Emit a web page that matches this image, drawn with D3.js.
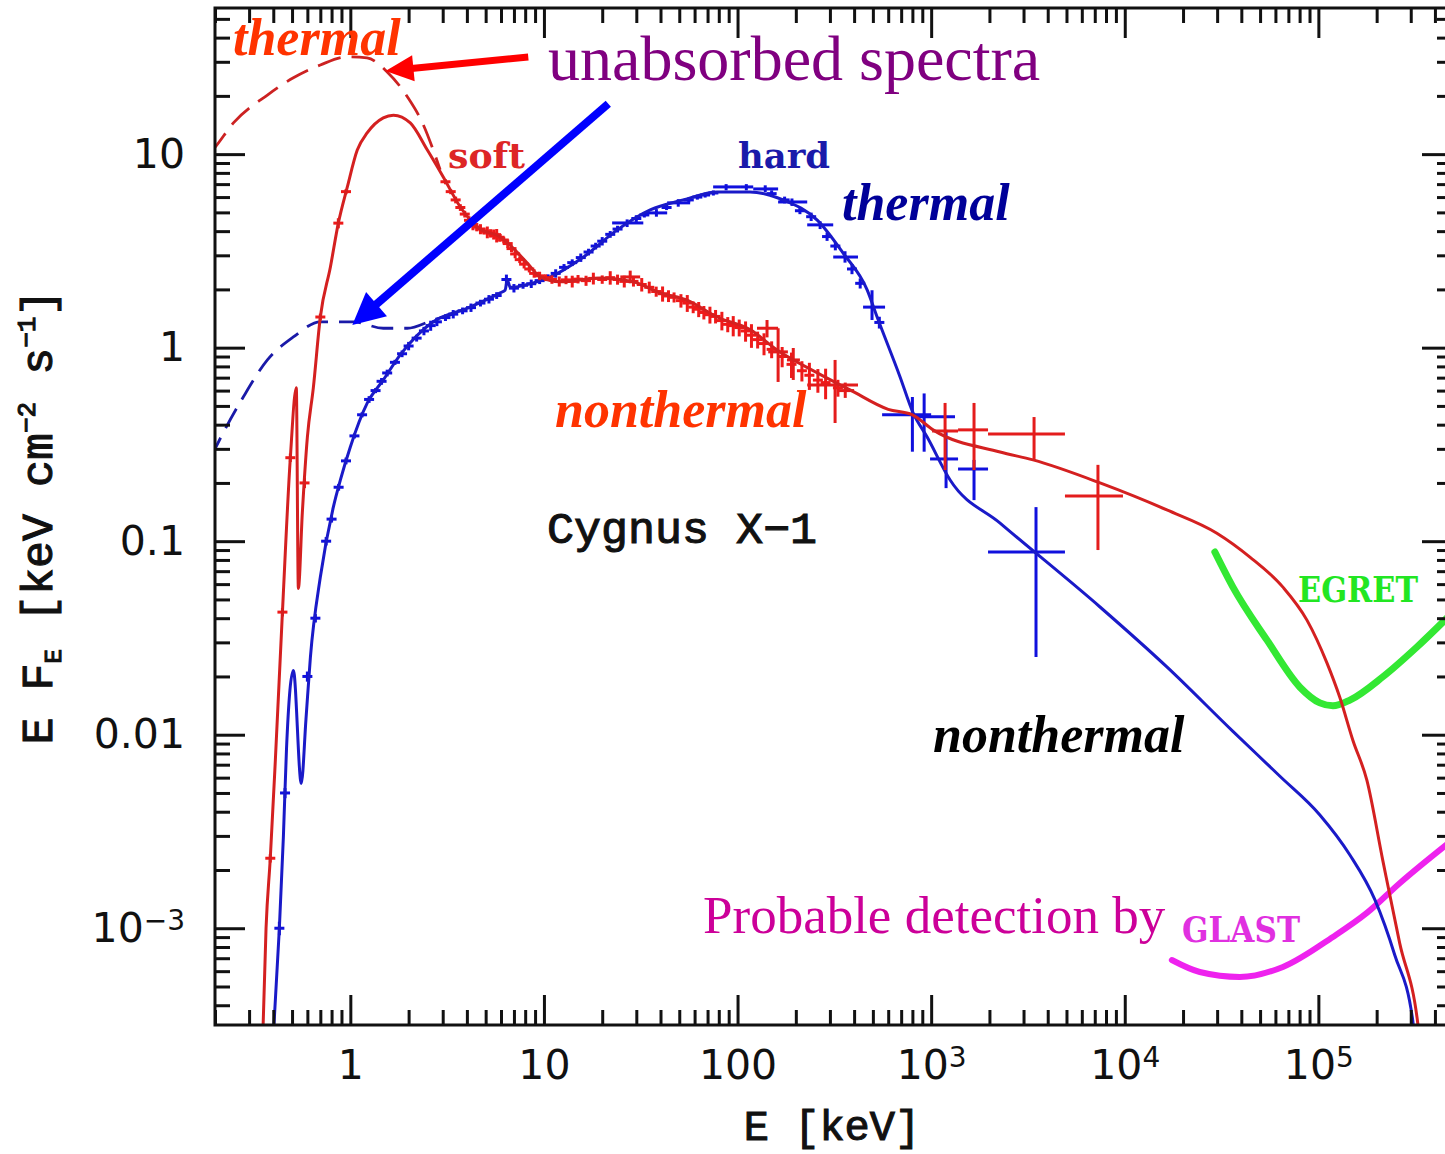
<!DOCTYPE html>
<html>
<head>
<meta charset="utf-8">
<script src="https://cdn.jsdelivr.net/npm/d3@7"></script>
<style>
  body { margin: 0; background: #fff; }
  svg { display: block; }
</style>
</head>
<body>
<svg id="chart" width="1445" height="1154"></svg>
<script>
// Cygnus X-1, soft (red) and hard (blue) states. E [keV] vs E F_E [keV cm^-2 s^-1]

// model curves [E, EF_E]
var softModel = [[0.352,2.5e-4],[0.367,1.0e-3],[0.386,2.3e-3],[0.41,7.4e-3],[0.446,0.043],[0.49,0.27],
  [0.526,0.62],[0.539,0.057],[0.565,0.14],[0.60,0.345],[0.644,0.62],[0.70,1.44],[0.789,2.61],[0.867,4.4],
  [0.965,6.77],[1.086,10.5],[1.224,12.9],[1.48,15.4],[1.67,15.9],[2.04,14.5],[2.5,10.5],[3.02,7.62],
  [3.7,5.33],[4.52,4.2],[5.95,3.73],[8.2,2.74],[9.57,2.32],[12.1,2.19],[19.5,2.29],[28.9,2.19],[39.8,1.92],
  [54.9,1.76],[78.5,1.44],[116,1.24],[160,0.973],[258,0.741],[381,0.605],[600,0.48],[800,0.45],[1023,0.376],
  [2270,0.289],[3360,0.263],[7450,0.2],[16500,0.145],[29900,0.110],[44300,0.0828],[65600,0.0579],
  [87300,0.0391],[110700,0.0235],[129000,0.0156],[150700,9.37e-3],[178000,5.82e-3],[215000,2.25e-3],
  [263000,8.38e-4],[326000,3.24e-4],[336000,2.5e-4]];

var softThermal = [[0.19,10.2],[0.201,10.9],[0.249,14.5],[0.373,20.2],[0.508,24.8],[0.70,28.9],[0.965,31.8],
  [1.22,31.4],[1.55,26.6],[1.97,19.8],[2.38,14.2],[2.68,10.5],[2.91,8.3]];

var hardModel = [[0.398,2.5e-4],[0.43,1.0e-3],[0.451,2.96e-3],[0.468,8.4e-3],[0.508,0.0215],[0.558,5.6e-3],
  [0.59,0.012],[0.622,0.0252],[0.70,0.0653],[0.817,0.15],[0.888,0.207],[1.0,0.307],[1.224,0.518],[1.48,0.681],
  [1.81,0.917],[2.68,1.36],[4.02,1.6],[5.95,1.92],[6.3,1.98],[6.47,2.24],[6.7,2.05],[8.81,2.16],[10.8,2.32],
  [16,2.94],[23.9,4.06],[35.4,5.15],[52.4,5.8],[78.5,6.38],[116,6.38],[172,5.8],[258,4.56],[351,3.08],
  [467,1.99],[526,1.44],[691,0.706],[807,0.46],[952,0.346],[1253,0.207],[2270,0.124],[7450,0.0457],
  [16500,0.0224],[36200,0.0104],[63300,6.1e-3],[101800,3.85e-3],[145500,2.39e-3],[196000,1.40e-3],
  [248000,7.27e-4],[307000,3.36e-4],[316000,2.5e-4]];

var hardThermal = [[0.19,0.27],[0.201,0.303],[0.280,0.556],[0.373,0.864],[0.508,1.136],[0.70,1.36],
  [1.04,1.36],[1.48,1.26],[1.97,1.26],[2.68,1.39],[3.7,1.53]];

// detector sensitivity curves
var egret = [[29200,0.0879],[36200,0.0579],[54300,0.0308],[80300,0.0176],[101800,0.0146],[118900,0.0141],
  [145500,0.0151],[215000,0.0199],[323000,0.0284],[490000,0.0425]];
var glast = [[17500,6.85e-4],[24400,5.94e-4],[39300,5.60e-4],[65600,6.31e-4],[118900,9.02e-4],
  [178000,1.20e-3],[263000,1.71e-3],[490000,2.85e-3]];

// dense data points [E, EF_E, relative error]
var softData = [[0.386,0.0023,.05],[0.446,0.043,.05],[0.49,0.27,.05],[0.58,0.2,.06],[0.70,1.44,.04],
  [0.867,4.4,.06],[0.95,6.4,.03],
  [3.1,7.2,.03],[3.3,6.4,.03],[3.5,5.8,.04],[3.7,5.3,.04],[3.9,4.9,.04],[4.1,4.55,.05],[4.3,4.3,.06],
  [4.5,4.2,.05],[4.7,4.1,.06],[4.9,4.0,.04],[5.1,3.95,.07],[5.3,3.9,.05],[5.5,3.85,.06],[5.7,3.8,.08],
  [5.9,3.72,.05],[6.2,3.6,.04],[6.5,3.45,.05],[6.8,3.25,.04],[7.1,3.05,.05],[7.5,2.85,.04],[7.9,2.7,.05],
  [8.4,2.55,.04],[8.9,2.42,.05],[9.5,2.35,.05],[10.2,2.3,.04],[11,2.25,.05],[12,2.2,.06],[13,2.24,.05],
  [14,2.2,.07],[15,2.26,.05],[16.5,2.22,.06],[18,2.28,.07],[20,2.25,.05],[22,2.3,.08],[24,2.25,.06],
  [26,2.2,.07],[29,2.2,.06],[32,2.12,.08],[35,2.05,.07],[38,1.95,.06],[41,1.9,.09],[44,1.85,.07],
  [47,1.82,.06],[51,1.75,.08],[55,1.7,.1],[59,1.62,.07],[63,1.58,.09],[67,1.52,.08],[72,1.48,.1],
  [77,1.45,.08],[83,1.38,.11],[89,1.32,.09],[95,1.3,.12],[102,1.27,.1],[110,1.22,.12],[118,1.16,.14],
  [127,1.1,.1],[137,1.05,.13],[150,0.98,.1],[170,0.9,.12],[190,0.82,.15],[215,0.76,.12],[235,0.72,.16],
  [260,0.68,.14],[285,0.66,.18],[330,0.62,.1]];

var hardData = [[0.43,1e-3,.08],[0.46,5e-3,.06],[0.6,0.02,.06],[0.66,0.04,.05],[0.75,0.1,.05],[0.8,0.13,.04],
  [0.87,0.19,.04],[0.95,0.26,.04],[1.05,0.35,.03],[1.15,0.45,.03],[1.25,0.54,.04],[1.35,0.6,.03],
  [1.45,0.67,.04],[1.55,0.74,.04],[1.7,0.84,.03],[1.85,0.93,.04],[2.0,1.02,.05],[2.2,1.12,.04],
  [2.4,1.22,.05],[2.6,1.3,.06],[2.8,1.36,.05],[3.1,1.43,.04],[3.4,1.49,.05],[3.8,1.55,.04],[4.2,1.61,.05],
  [4.7,1.7,.04],[5.2,1.78,.05],[5.7,1.86,.04],[6.4,2.25,.06],[7.0,2.03,.05],[7.8,2.1,.04],[8.6,2.14,.05],
  [9.5,2.22,.04],[10.5,2.3,.04],[11.5,2.42,.05],[12.7,2.6,.04],[14,2.75,.04],[15.5,2.92,.05],[17,3.12,.04],
  [18.5,3.35,.04],[20,3.55,.05],[22,3.85,.04],[24,4.1,.04],[30,4.65,.04],[33,4.85,.03],[43,5.3,.03],
  [56,5.8,.03],[62,6.0,.03],[68,6.15,.03],[75,6.3,.03],[150,6.25,.04],[175,5.8,.04],[210,5.1,.04],
  [240,4.75,.05],[290,3.75,.05],[320,3.35,.05],[390,2.55,.06],[430,2.15,.06],[540,1.35,.07]];

// large error crosses [E, EF_E, Elo, Ehi, Flo, Fhi]
var softCross = [[27.9,2.32,24.8,31.4,2.15,2.5],[142,1.26,126,162,1.13,1.39],[162,0.951,144,182,0.665,1.26],
  [194,0.864,180,210,0.681,0.996],[319,0.641,229,419,0.408,0.864],[360,0.6,330,400,0.55,0.66],
  [1180,0.371,1011,1377,0.233,0.518],[1665,0.376,1377,1967,0.233,0.518],[3400,0.358,1967,4910,0.263,0.438],
  [7270,0.171,4910,9790,0.090,0.248]];
var hardCross = [[26.9,4.41,22.5,32.6,4.2,4.6],[38.1,4.97,33.3,43.3,4.75,5.2],[49.4,5.6,43.3,56.9,5.35,5.85],
  [87.3,6.77,74.8,103,6.5,7.0],[111,6.77,103,120.5,6.5,7.0],[139,6.61,120.5,162,6.35,6.9],
  [191,5.66,162,229,5.4,5.9],[267,4.31,229,312,4.1,4.5],[359,2.94,312,419,2.75,3.15],
  [495,1.62,445,578,1.39,1.98],[800,0.45,558,1000,0.29,0.556],[920,0.44,820,1328,0.29,0.58],
  [1194,0.266,987,1377,0.188,0.376],[1665,0.236,1377,1967,0.163,0.263],[3480,0.0879,1967,4910,0.0252,0.150]];

// axis ticks
var xMajor = [1, 10, 100, 1e3, 1e4, 1e5];
var xTickLabels = [["1"], ["10"], ["100"], ["10", "3"], ["10", "4"], ["10", "5"]];
var yMajor = [10, 1, 0.1, 0.01, 1e-3];
var yTickLabels = [["10"], ["1"], ["0.1"], ["0.01"], ["10", "\u22123"]];

// annotation arrows, in data coordinates [E, EF_E]
var arrowFrom = [[8.3, 31.8], [21.5, 18.2]];
var arrowTo = [[1.52, 26.9], [1.024, 1.31]];

var margin = { left: 215, top: 8, right: 1452, bottom: 1025 };
var svg = d3.select("#chart");

var x = d3.scaleLog().domain([0.2, 4.9e5]).range([margin.left, margin.right]);
var y = d3.scaleLog().domain([Math.pow(10, -3.5), 56.9]).range([margin.bottom, margin.top]);

svg.append("defs").append("clipPath").attr("id", "plotclip")
  .append("rect").attr("x", margin.left).attr("y", margin.top)
  .attr("width", margin.right - margin.left).attr("height", margin.bottom - margin.top);

var plot = svg.append("g").attr("clip-path", "url(#plotclip)");

var line = d3.line()
  .x(function(d) { return x(d[0]); })
  .y(function(d) { return y(d[1]); })
  .curve(d3.curveMonotoneX);

// detector curves underneath
plot.append("path").datum(egret).attr("d", line)
  .attr("fill", "none").attr("stroke", "#33e833").attr("stroke-width", 7).attr("stroke-linecap", "round");
plot.append("path").datum(glast).attr("d", line)
  .attr("fill", "none").attr("stroke", "#ee22ee").attr("stroke-width", 6).attr("stroke-linecap", "round");

// dashed unabsorbed thermal components
plot.append("path").datum(softThermal).attr("d", line)
  .attr("fill", "none").attr("stroke", "#cc2222").attr("stroke-width", 2.8).attr("stroke-dasharray", "24,11");
plot.append("path").datum(hardThermal).attr("d", line)
  .attr("fill", "none").attr("stroke", "#1a1aa8").attr("stroke-width", 2.8).attr("stroke-dasharray", "22,11");

function drawData(data, color) {
  var g = plot.append("g").attr("stroke", color).attr("stroke-width", 3);
  data.forEach(function(d) {
    var cx = x(d[0]);
    g.append("line").attr("x1", cx).attr("x2", cx)
      .attr("y1", y(d[1] * (1 - d[2]))).attr("y2", y(d[1] * (1 + d[2])));
    g.append("line").attr("x1", cx - 5).attr("x2", cx + 5)
      .attr("y1", y(d[1])).attr("y2", y(d[1]));
  });
}
function drawCross(data, color) {
  var g = plot.append("g").attr("stroke", color).attr("stroke-width", 3);
  data.forEach(function(d) {
    g.append("line").attr("x1", x(d[0])).attr("x2", x(d[0])).attr("y1", y(d[4])).attr("y2", y(d[5]));
    g.append("line").attr("x1", x(d[2])).attr("x2", x(d[3])).attr("y1", y(d[1])).attr("y2", y(d[1]));
  });
}

drawData(hardData, "#1010dd");
drawCross(hardCross, "#1010dd");
plot.append("path").datum(hardModel).attr("d", line)
  .attr("fill", "none").attr("stroke", "#1a1ac8").attr("stroke-width", 3);

drawData(softData, "#ee1a1a");
drawCross(softCross, "#e41c1c");
plot.append("path").datum(softModel).attr("d", line)
  .attr("fill", "none").attr("stroke", "#d42020").attr("stroke-width", 3);

// axes: ticks point inward on all four sides
var minorX = x.ticks().filter(function(d) { return Math.abs(Math.log10(d) - Math.round(Math.log10(d))) > 1e-6; });
var minorY = y.ticks().filter(function(d) { return Math.abs(Math.log10(d) - Math.round(Math.log10(d))) > 1e-6; });

function styleAxis(g) {
  g.select(".domain").remove();
  g.selectAll(".tick line").attr("stroke", "#111").attr("stroke-width", 3);
  g.attr("font-family", "'DejaVu Sans', 'Liberation Sans', sans-serif").attr("font-size", 41);
  g.selectAll(".tick text").attr("fill", "#111");
}

var gxb = svg.append("g").attr("transform", "translate(0," + margin.bottom + ")")
  .call(d3.axisBottom(x).tickValues(xMajor).tickSize(-30).tickPadding(25).tickFormat(function() { return ""; }))
  .call(styleAxis);
gxb.selectAll(".tick text").each(function(d, i) {
  var t = d3.select(this), lab = xTickLabels[i];
  t.append("tspan").text(lab[0]);
  if (lab[1]) t.append("tspan").attr("dy", "-0.42em").attr("font-size", 28).text(lab[1]);
});
svg.append("g").attr("transform", "translate(0," + margin.bottom + ")")
  .call(d3.axisBottom(x).tickValues(minorX).tickSize(-15).tickFormat(""))
  .call(styleAxis);
svg.append("g").attr("transform", "translate(0," + margin.top + ")")
  .call(d3.axisTop(x).tickValues(xMajor).tickSize(-30).tickFormat(""))
  .call(styleAxis);
svg.append("g").attr("transform", "translate(0," + margin.top + ")")
  .call(d3.axisTop(x).tickValues(minorX).tickSize(-15).tickFormat(""))
  .call(styleAxis);

var gyl = svg.append("g").attr("transform", "translate(" + margin.left + ",0)")
  .call(d3.axisLeft(y).tickValues(yMajor).tickSize(-30).tickPadding(30).tickFormat(function() { return ""; }))
  .call(styleAxis);
gyl.selectAll(".tick text").each(function(d, i) {
  var t = d3.select(this), lab = yTickLabels[i];
  t.append("tspan").text(lab[0]);
  if (lab[1]) t.append("tspan").attr("dy", "-0.42em").attr("font-size", 28).text(lab[1]);
});
svg.append("g").attr("transform", "translate(" + margin.left + ",0)")
  .call(d3.axisLeft(y).tickValues(minorY).tickSize(-15).tickFormat(""))
  .call(styleAxis);
svg.append("g").attr("transform", "translate(" + margin.right + ",0)")
  .call(d3.axisRight(y).tickValues(yMajor).tickSize(-30).tickFormat(""))
  .call(styleAxis);
svg.append("g").attr("transform", "translate(" + margin.right + ",0)")
  .call(d3.axisRight(y).tickValues(minorY).tickSize(-15).tickFormat(""))
  .call(styleAxis);

svg.append("rect").attr("x", margin.left).attr("y", margin.top)
  .attr("width", margin.right - margin.left).attr("height", margin.bottom - margin.top)
  .attr("fill", "none").attr("stroke", "#111").attr("stroke-width", 3);

// axis titles (typewriter face, slightly thickened)
var mono = "'Liberation Mono', 'DejaVu Sans Mono', monospace";
svg.append("text").attr("x", 832).attr("y", 1140).attr("text-anchor", "middle")
  .attr("font-family", mono).attr("font-size", 42).attr("fill", "#111")
  .attr("stroke", "#111").attr("stroke-width", 1.1)
  .text("E [keV]");

var yl = svg.append("text").attr("transform", "translate(52,517) rotate(-90)").attr("text-anchor", "middle")
  .attr("font-family", mono).attr("font-size", 45).attr("fill", "#111")
  .attr("stroke", "#111").attr("stroke-width", 1.1);
yl.append("tspan").text("E F");
yl.append("tspan").attr("font-size", 24).attr("dy", 9).text("E");
yl.append("tspan").attr("dy", -9).text(" [keV cm");
yl.append("tspan").attr("font-size", 26).attr("dy", -17).text("\u22122");
yl.append("tspan").attr("dy", 17).text(" s");
yl.append("tspan").attr("font-size", 26).attr("dy", -17).text("\u22121");
yl.append("tspan").attr("dy", 17).text("]");

// arrows
var arrowColors = ["#ff0000", "#0000ff"];
var arrowWidths = [7, 8];
var arrowHead = [[28, 13], [32, 16]];
arrowFrom.forEach(function(f, i) {
  var x1 = x(f[0]), y1 = y(f[1]), x2 = x(arrowTo[i][0]), y2 = y(arrowTo[i][1]);
  var dx = x2 - x1, dy = y2 - y1, len = Math.sqrt(dx * dx + dy * dy);
  var ux = dx / len, uy = dy / len, L = arrowHead[i][0], W = arrowHead[i][1];
  var bx = x2 - ux * L, by = y2 - uy * L;
  svg.append("line").attr("x1", x1).attr("y1", y1).attr("x2", bx + ux * 2).attr("y2", by + uy * 2)
    .attr("stroke", arrowColors[i]).attr("stroke-width", arrowWidths[i]);
  svg.append("polygon")
    .attr("points", [[x2, y2], [bx - uy * W, by + ux * W], [bx + uy * W, by - ux * W]].join(" "))
    .attr("fill", arrowColors[i]);
});

// annotation texts
var serif = "'Liberation Serif', 'Times New Roman', serif";
var slab = "'DejaVu Serif', serif";
function label(txt, px, py, opts) {
  var t = svg.append("text").attr("x", px).attr("y", py).text(txt)
    .attr("font-family", opts.family).attr("font-size", opts.size).attr("fill", opts.fill);
  if (opts.weight) t.attr("font-weight", opts.weight);
  if (opts.italic) t.attr("font-style", "italic");
  if (opts.len) t.attr("textLength", opts.len).attr("lengthAdjust", "spacingAndGlyphs");
  if (opts.stroke) t.attr("stroke", opts.fill).attr("stroke-width", opts.stroke);
  return t;
}
label("thermal", 233, 55, { family: serif, size: 52, fill: "#ff3300", weight: "bold", italic: true });
label("unabsorbed spectra", 548, 80, { family: serif, size: 64, fill: "#800080" });
label("soft", 448, 168, { family: slab, size: 36, fill: "#dd2626", weight: "bold", len: 77 });
label("hard", 738, 168, { family: slab, size: 36, fill: "#1a1aaa", weight: "bold", len: 92 });
label("thermal", 842, 220, { family: serif, size: 52, fill: "#000099", weight: "bold", italic: true });
label("nonthermal", 555, 427, { family: serif, size: 52, fill: "#ff3300", weight: "bold", italic: true });
label("Cygnus X\u22121", 547, 543, { family: mono, size: 45, fill: "#111", stroke: 1.1 });
label("nonthermal", 933, 752, { family: serif, size: 52, fill: "#000", weight: "bold", italic: true });
label("EGRET", 1298, 602, { family: slab, size: 35, fill: "#22e622", weight: "bold", len: 120 });
label("Probable detection by", 703, 933, { family: serif, size: 53, fill: "#cc0099" });
label("GLAST", 1182, 942, { family: slab, size: 36, fill: "#e030e0", weight: "bold", len: 118 });
</script>
</body>
</html>
